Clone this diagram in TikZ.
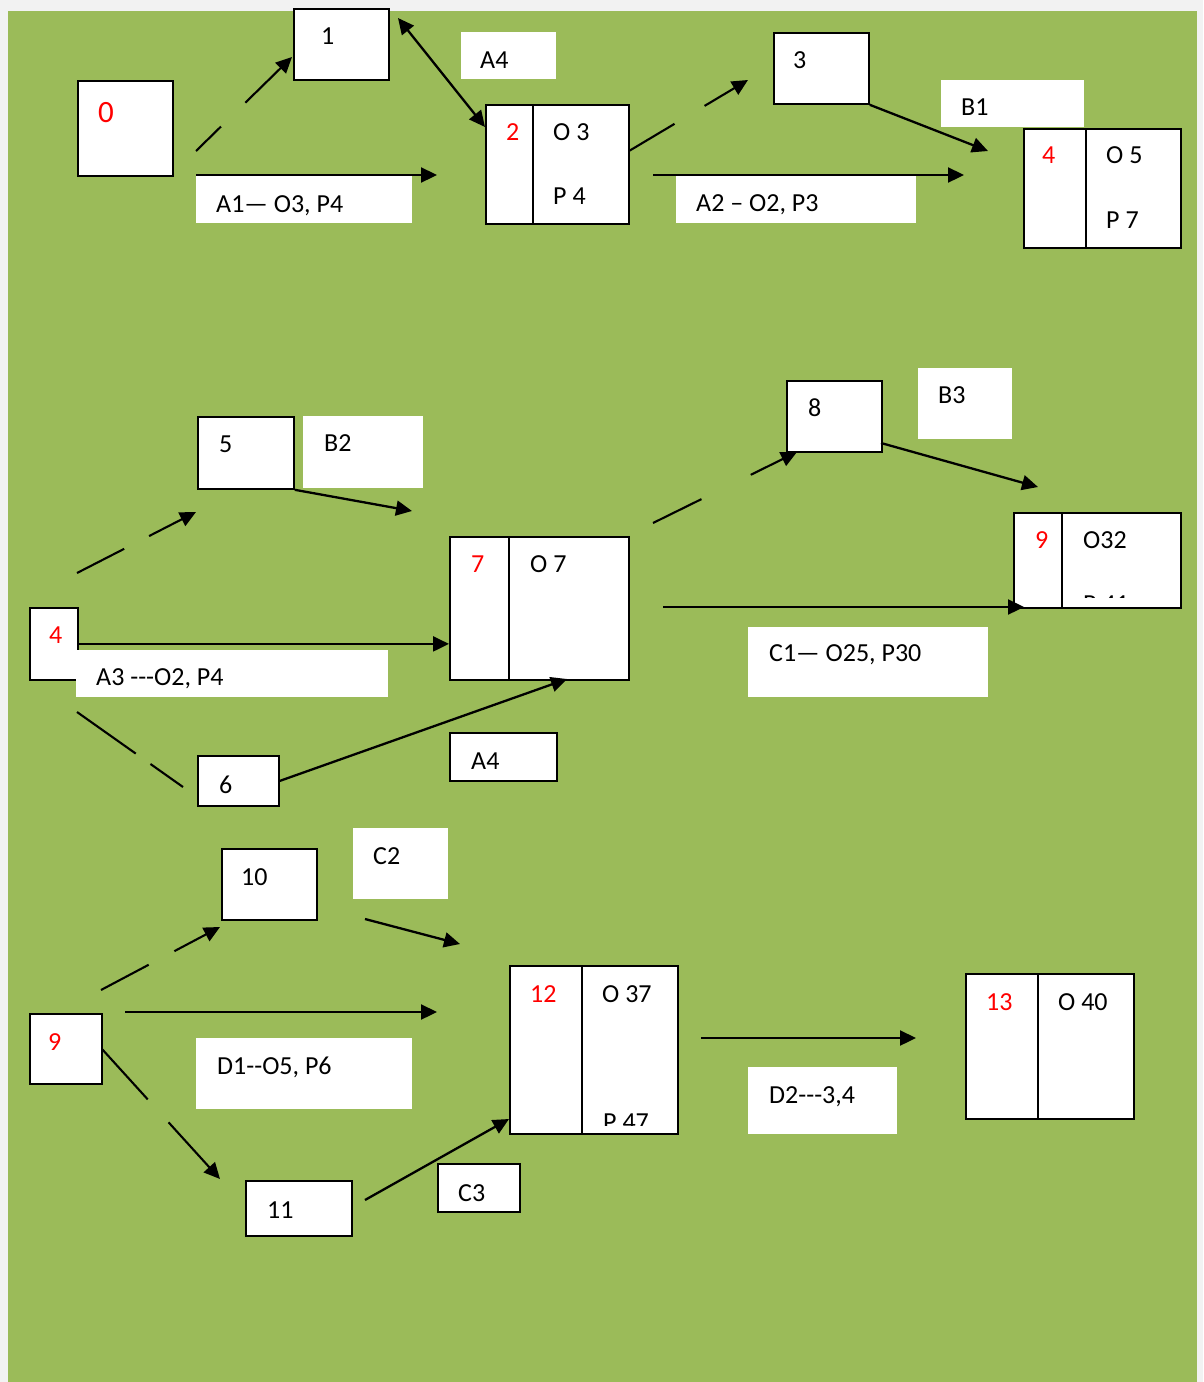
\documentclass[tikz,border=0pt]{standalone}
\usepackage{fontspec}
\setmainfont{Carlito}
\usetikzlibrary{arrows.meta}
\definecolor{paper}{HTML}{F2F2F2}
\definecolor{leaf}{HTML}{9BBB59}
\definecolor{tagred}{HTML}{FF0000}
\newcommand{\hy}{\mbox{-}}

\begin{document}
\begin{tikzpicture}[x=1pt,y=-1pt,
    box/.style={draw,fill=white,line width=1.8pt,inner sep=0pt,anchor=north west},
    tag/.style={fill=white,inner sep=0pt,anchor=north west},
    txt/.style={inner sep=0pt,anchor=base west,font=\fontsize{26}{31}\selectfont},
    idx/.style={txt,text=tagred},
    arr/.style={line width=2.3pt,-{Triangle[length=16pt,width=15pt]}},
    broken/.style 2 args={line width=2.1pt,dash pattern=on #1 off #2 on 600pt off 1pt}]
    \useasboundingbox (0,0) rectangle (1203,1382);
    \fill[paper] (0,0) rectangle (1203,1382);
    \fill[leaf] (8,11) rectangle (1197,1382);

    % top row
    \node[box,minimum width=95pt,minimum height=95pt] (b0) at (77,80) {};
    \node[box,minimum width=95pt,minimum height=71pt] (b1) at (293,8) {};
    \node[tag,minimum width=95pt,minimum height=47pt] (lA4) at (461,32) {};
    \node[box,minimum width=47pt,minimum height=119pt] (b2l) at (485,104) {};
    \node[box,minimum width=96pt,minimum height=119pt] (b2r) at (532,104) {};
    \node[tag,minimum width=216pt,minimum height=47pt] (lA1) at (196,176) {};
    \node[box,minimum width=95pt,minimum height=71pt] (b3) at (773,32) {};
    \node[tag,minimum width=143pt,minimum height=47pt] (lB1) at (941,80) {};
    \node[box,minimum width=62pt,minimum height=119pt] (b4l) at (1023,128) {};
    \node[box,minimum width=95pt,minimum height=119pt] (b4r) at (1085,128) {};
    \node[tag,minimum width=240pt,minimum height=47pt] (lA2) at (676,176) {};

    \node[txt,font=\fontsize{31}{36}\selectfont,text=tagred] (t0) at (98,122) {0};
    \node[txt] (t1) at (321,44) {1};
    \node[txt] (tA4) at (480,68) {A4};
    \node[idx] (t2) at (506,140) {2};
    \node[txt] (tO3) at (553,140) {O 3};
    \node[txt] (tP4) at (553,204) {P 4};
    \node[txt] (tA1) at (216,212) {A1— O3, P4};
    \node[txt] (t3) at (793,68) {3};
    \node[txt] (tB1) at (961,115) {B1};
    \node[idx] (t4) at (1042,163) {4};
    \node[txt] (tO5) at (1106,163) {O 5};
    \node[txt] (tP7) at (1106,228) {P 7};
    \node[txt] (tA2) at (696,211) {A2 – O2, P3};

    \coordinate (c01s) at (196,151);
    \coordinate (c01e) at (292,57);
    \coordinate (c02s) at (196,175);
    \coordinate (c02e) at (437,175);
    \coordinate (c12s) at (398,18);
    \coordinate (c12e) at (485,127);
    \coordinate (c23s) at (629,151);
    \coordinate (c23e) at (748,80);
    \coordinate (c24s) at (653,175);
    \coordinate (c24e) at (964,175);
    \coordinate (c34e) at (988,151);
    \draw[arr,broken={35pt}{34pt}] (c01s) -- (c01e);
    \draw[arr] (c02s) -- (c02e);
    \draw[arr,{Triangle[length=16pt,width=15pt]}-{Triangle[length=16pt,width=15pt]}] (c12s) -- (c12e);
    \draw[arr,broken={53pt}{35pt}] (c23s) -- (c23e);
    \draw[arr] (c24s) -- (c24e);
    \draw[arr] (b3.south east) -- (c34e);

    % middle row
    \node[box,minimum width=96pt,minimum height=72pt] (b5) at (197,416) {};
    \node[tag,minimum width=120pt,minimum height=72pt] (lB2) at (303,416) {};
    \node[box,minimum width=48pt,minimum height=72pt] (m4) at (29,607) {};
    \node[tag,minimum width=312pt,minimum height=47pt] (lA3) at (76,650) {};
    \node[box,minimum width=81pt,minimum height=50pt] (b6) at (197,755) {};
    \node[box,minimum width=59pt,minimum height=143pt] (b7l) at (449,536) {};
    \node[box,minimum width=120pt,minimum height=143pt] (b7r) at (508,536) {};
    \node[box,line width=1.5pt,minimum width=107pt,minimum height=48pt] (lA4b) at (449,732) {};
    \node[box,minimum width=95pt,minimum height=71pt] (b8) at (786,380) {};
    \node[tag,minimum width=94pt,minimum height=71pt] (lB3) at (918,368) {};
    \node[box,minimum width=48pt,minimum height=95pt] (b9l) at (1013,512) {};
    \node[box,minimum width=119pt,minimum height=95pt] (b9r) at (1061,512) {};
    \node[tag,minimum width=240pt,minimum height=70pt] (lC1) at (748,627) {};

    \node[txt] (t5) at (219,452) {5};
    \node[txt] (tB2) at (324,451) {B2};
    \node[idx] (tm4) at (49,643) {4};
    \node[txt] (tA3) at (96,685) {A3 \hy\hy\hy O2, P4};
    \node[txt] (t6) at (219,793) {6};
    \node[idx] (t7) at (471,572) {7};
    \node[txt] (tO7) at (530,572) {O 7};
    \node[txt] (tA4b) at (471,769) {A4};
    \node[txt] (t8) at (808,416) {8};
    \node[txt] (tB3) at (938,403) {B3};
    \node[idx] (t9) at (1035,548) {9};
    \node[txt] (tO32) at (1083,548) {O32};
    \begin{scope}
      \clip (1061,512) rectangle (1180,597);
      \node[txt] (tP41) at (1083,612) {P 41};
    \end{scope}
    \node[txt] (tC1) at (769,661) {C1— O25, P30};

    \coordinate (c45s) at (77,573);
    \coordinate (c45e) at (196,512);
    \coordinate (c57e) at (412,511);
    \coordinate (c46s) at (77,712);
    \coordinate (c46e) at (183,787);
    \coordinate (c67e) at (567,679);
    \coordinate (c78s) at (653,523);
    \coordinate (c78e) at (797,452);
    \coordinate (c89s) at (881,443);
    \coordinate (c89e) at (1038,487);
    \coordinate (c79s) at (663,607);
    \coordinate (c79e) at (1024,607);
    \draw[arr,broken={53pt}{28pt}] (c45s) -- (c45e);
    \draw[arr] (b5.south east) -- (c57e);
    \draw[arr] (m4.east) -- (m4.east -| b7l.west);
    \draw[broken={72pt}{18pt}] (c46s) -- (c46e);
    \draw[arr] (b6.east) -- (c67e);
    \draw[arr,broken={54pt}{55pt}] (c78s) -- (c78e);
    \draw[arr] (c89s) -- (c89e);
    \draw[arr] (c79s) -- (c79e);

    % bottom row
    \node[box,minimum width=95pt,minimum height=71pt] (b10) at (221,848) {};
    \node[tag,minimum width=95pt,minimum height=71pt] (lC2) at (353,828) {};
    \node[box,minimum width=72pt,minimum height=70pt] (m9) at (29,1013) {};
    \node[tag,minimum width=216pt,minimum height=71pt] (lD1) at (196,1038) {};
    \node[box,minimum width=106pt,minimum height=55pt] (b11) at (245,1180) {};
    \node[box,line width=1.5pt,minimum width=82pt,minimum height=48pt] (lC3) at (437,1163) {};
    \node[box,minimum width=72pt,minimum height=168pt] (b12l) at (509,965) {};
    \node[box,minimum width=96pt,minimum height=168pt] (b12r) at (581,965) {};
    \node[tag,minimum width=149pt,minimum height=67pt] (lD2) at (748,1067) {};
    \node[box,minimum width=72pt,minimum height=145pt] (b13l) at (965,973) {};
    \node[box,minimum width=96pt,minimum height=145pt] (b13r) at (1037,973) {};

    \node[txt] (t10) at (241,885) {10};
    \node[txt] (tC2) at (373,864) {C2};
    \node[idx] (tm9) at (48,1050) {9};
    \node[txt] (tD1) at (217,1074) {D1\hy\hy O5, P6};
    \node[txt] (t11) at (267,1218) {11};
    \node[txt] (tC3) at (458,1201) {C3};
    \node[idx] (t12) at (530,1002) {12};
    \node[txt] (tO37) at (602,1002) {O 37};
    \begin{scope}
      \clip (581,965) rectangle (677,1125);
      \node[txt] (tP47) at (603,1130) {P 47};
    \end{scope}
    \node[txt] (tD2) at (769,1103) {D2\hy\hy\hy 3,4};
    \node[idx] (t13) at (986,1010) {13};
    \node[txt] (tO40) at (1058,1010) {O 40};

    \coordinate (c910s) at (101,990);
    \coordinate (c910e) at (220,927);
    \coordinate (c1012s) at (365,919);
    \coordinate (c1012e) at (460,944);
    \coordinate (c912s) at (125,1012);
    \coordinate (c912e) at (437,1012);
    \coordinate (c911s) at (102,1049);
    \coordinate (c911e) at (220,1179);
    \coordinate (c1112s) at (365,1200);
    \coordinate (c1112e) at (509,1119);
    \coordinate (c1213s) at (701,1038);
    \coordinate (c1213e) at (916,1038);
    \draw[arr,broken={54pt}{29pt}] (c910s) -- (c910e);
    \draw[arr] (c1012s) -- (c1012e);
    \draw[arr] (c912s) -- (c912e);
    \draw[arr,broken={68pt}{31pt}] (c911s) -- (c911e);
    \draw[arr] (c1112s) -- (c1112e);
    \draw[arr] (c1213s) -- (c1213e);
  \end{tikzpicture}
\end{document}
